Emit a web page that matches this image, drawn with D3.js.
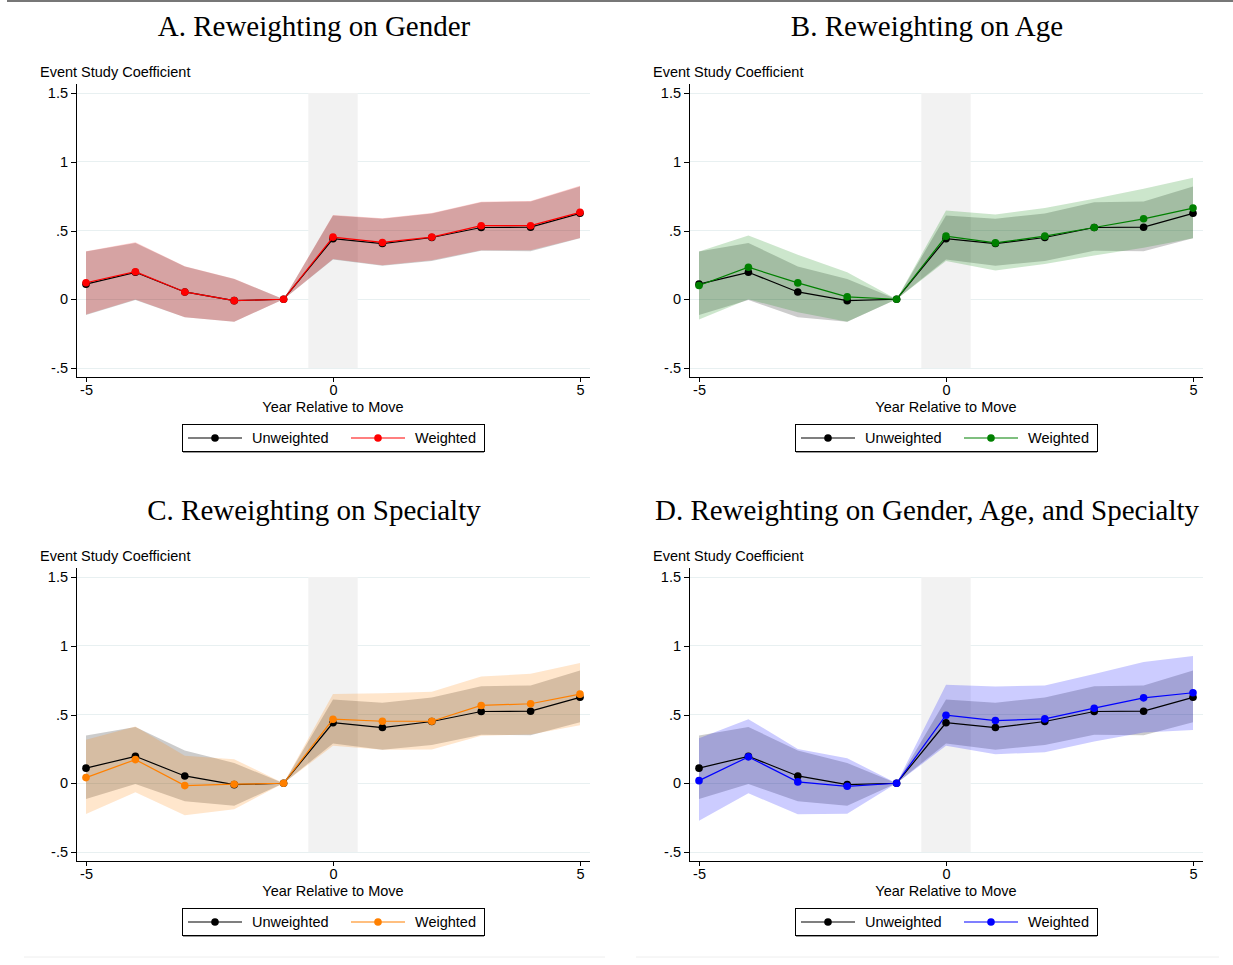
<!DOCTYPE html>
<html lang="en">
<head>
<meta charset="utf-8">
<script src="https://d3js.org/d3.v7.min.js"></script>
<style type="text/css">
body {
	margin: 0;
	background-color: #ffffff;
}
.axis text {
	font: 14.5px "Liberation Sans", Arial, sans-serif;
	fill: #000;
}
.axis line {
	stroke: #000;
	shape-rendering: crispEdges;
}
.title {
	font: 29px "Liberation Serif", "Times New Roman", serif;
}
.lab {
	font: 14.5px "Liberation Sans", Arial, sans-serif;
}
</style>
</head>
<body>
<script type="text/javascript">

// years relative to move
var years = [-5, -4, -3, -2, -1, 0, 1, 2, 3, 4, 5];

// unweighted estimates (same in every panel)
var unweighted   = [0.11, 0.196, 0.053, -0.01, 0, 0.44, 0.405, 0.449, 0.522, 0.524, 0.625];
var unweightedLo = [-0.114, -0.005, -0.131, -0.163, 0, 0.289, 0.243, 0.279, 0.352, 0.35, 0.444];
var unweightedHi = [0.347, 0.41, 0.238, 0.148, 0, 0.609, 0.585, 0.624, 0.706, 0.711, 0.82];

// A. gender
var genderW  = [0.12, 0.20, 0.053, -0.01, 0, 0.452, 0.413, 0.452, 0.535, 0.535, 0.632];
var genderLo = [-0.11, -0.002, -0.13, -0.163, 0, 0.293, 0.247, 0.284, 0.357, 0.357, 0.446];
var genderHi = [0.35, 0.415, 0.24, 0.15, 0, 0.612, 0.59, 0.628, 0.71, 0.715, 0.825];

// B. age
var ageW  = [0.10, 0.233, 0.119, 0.017, 0, 0.459, 0.41, 0.459, 0.522, 0.585, 0.663];
var ageLo = [-0.148, 0.0, -0.095, -0.163, 0, 0.279, 0.209, 0.257, 0.318, 0.375, 0.444];
var ageHi = [0.347, 0.464, 0.323, 0.197, 0, 0.646, 0.617, 0.663, 0.731, 0.803, 0.883];

// C. specialty
var specW  = [0.041, 0.172, -0.017, -0.007, 0, 0.466, 0.451, 0.451, 0.566, 0.578, 0.648];
var specLo = [-0.223, -0.066, -0.233, -0.189, 0, 0.272, 0.243, 0.245, 0.345, 0.355, 0.422];
var specHi = [0.316, 0.413, 0.20, 0.175, 0, 0.65, 0.655, 0.665, 0.777, 0.796, 0.874];

// D. gender, age and specialty
var allW  = [0.019, 0.192, 0.01, -0.022, 0, 0.495, 0.456, 0.468, 0.546, 0.621, 0.658];
var allLo = [-0.272, -0.073, -0.226, -0.221, 0, 0.272, 0.211, 0.226, 0.303, 0.369, 0.388];
var allHi = [0.328, 0.466, 0.25, 0.182, 0, 0.716, 0.704, 0.711, 0.794, 0.881, 0.925];

var titles = ["A. Reweighting on Gender", "B. Reweighting on Age",
              "C. Reweighting on Specialty", "D. Reweighting on Gender, Age, and Specialty"];
var colors = ["#ff0000", "#008000", "#ff8000", "#0000ff"];

var yTicks = [-0.5, 0, 0.5, 1, 1.5];
var yTickLabels = ["-.5", "0", ".5", "1", "1.5"];
var xTicks = [-5, 0, 5];
var xTickLabels = ["-5", "0", "5"];

var panels = [
	{title: titles[0], color: colors[0], w: genderW, lo: genderLo, hi: genderHi, ox: 0,   oy: 0},
	{title: titles[1], color: colors[1], w: ageW,    lo: ageLo,    hi: ageHi,    ox: 613, oy: 0},
	{title: titles[2], color: colors[2], w: specW,   lo: specLo,   hi: specHi,   ox: 0,   oy: 484},
	{title: titles[3], color: colors[3], w: allW,    lo: allLo,    hi: allHi,    ox: 613, oy: 484}
];

var width = 1233, height = 965;

var svg = d3.select("body")
	.append("svg")
	.attr("width", width)
	.attr("height", height);

// top rule
svg.append("rect")
	.attr("x", 7).attr("y", 0)
	.attr("width", width - 7).attr("height", 2)
	.style("fill", "#777");

panels.forEach(function(p) {
	var g = svg.append("g").attr("transform", "translate(" + p.ox + "," + p.oy + ")");

	var x = d3.scaleLinear().domain([-5, 5]).range([86, 580]);
	var y = d3.scaleLinear().domain([-0.5, 1.5]).range([368, 93]);

	// title
	g.append("text")
		.attr("class", "title")
		.attr("x", 314).attr("y", 36)
		.attr("text-anchor", "middle")
		.text(p.title);

	g.append("text")
		.attr("class", "lab")
		.attr("x", 40).attr("y", 77)
		.text("Event Study Coefficient");

	// gridlines
	g.selectAll(".grid")
		.data(yTicks)
		.enter()
		.append("line")
		.attr("x1", 76).attr("x2", 590)
		.attr("y1", function(d) { return y(d); })
		.attr("y2", function(d) { return y(d); })
		.style("stroke", "#e8f0f1")
		.style("stroke-width", 1)
		.style("shape-rendering", "crispEdges");

	// shaded window around the move
	g.append("rect")
		.attr("x", x(-0.5)).attr("y", y(1.5))
		.attr("width", x(0.5) - x(-0.5))
		.attr("height", y(-0.5) - y(1.5))
		.style("fill", "#f2f2f2");

	var area = d3.area()
		.x(function(d, i) { return x(years[i]); })
		.y0(function(d) { return y(d[0]); })
		.y1(function(d) { return y(d[1]); });

	var line = d3.line()
		.x(function(d, i) { return x(years[i]); })
		.y(function(d) { return y(d); });

	// confidence bands
	g.append("path")
		.attr("d", area(unweightedLo.map(function(v, i) { return [v, unweightedHi[i]]; })))
		.style("fill", "#000")
		.style("fill-opacity", 0.2);

	g.append("path")
		.attr("d", area(p.lo.map(function(v, i) { return [v, p.hi[i]]; })))
		.style("fill", p.color)
		.style("fill-opacity", 0.2);

	// unweighted line
	g.append("path")
		.attr("d", line(unweighted))
		.style("fill", "none")
		.style("stroke", "#000")
		.style("stroke-width", 1.2);

	g.selectAll(".dotU")
		.data(unweighted)
		.enter()
		.append("circle")
		.attr("cx", function(d, i) { return x(years[i]); })
		.attr("cy", function(d) { return y(d); })
		.attr("r", 3.8)
		.style("fill", "#000");

	// weighted line
	g.append("path")
		.attr("d", line(p.w))
		.style("fill", "none")
		.style("stroke", p.color)
		.style("stroke-width", 1.2);

	g.selectAll(".dotW")
		.data(p.w)
		.enter()
		.append("circle")
		.attr("cx", function(d, i) { return x(years[i]); })
		.attr("cy", function(d) { return y(d); })
		.attr("r", 3.8)
		.style("fill", p.color);

	// axes
	var yAxis = d3.axisLeft(y)
		.tickValues(yTicks)
		.tickFormat(function(d, i) { return yTickLabels[i]; })
		.tickSize(5)
		.tickSizeOuter(0)
		.tickPadding(3);

	var ya = g.append("g")
		.attr("class", "axis")
		.attr("transform", "translate(76,0)")
		.call(yAxis);
	ya.select(".domain").remove();

	var xAxis = d3.axisBottom(x)
		.tickValues(xTicks)
		.tickFormat(function(d, i) { return xTickLabels[i]; })
		.tickSize(5)
		.tickSizeOuter(0)
		.tickPadding(3);

	var xa = g.append("g")
		.attr("class", "axis")
		.attr("transform", "translate(0,377)")
		.call(xAxis);
	xa.select(".domain").remove();

	g.append("line")
		.attr("x1", 76.5).attr("x2", 76.5)
		.attr("y1", 84).attr("y2", 377)
		.style("stroke", "#000")
		.style("stroke-width", 1);

	g.append("line")
		.attr("x1", 76).attr("x2", 590)
		.attr("y1", 377.5).attr("y2", 377.5)
		.style("stroke", "#000")
		.style("stroke-width", 1);

	g.append("text")
		.attr("class", "lab")
		.attr("x", 333).attr("y", 412)
		.attr("text-anchor", "middle")
		.text("Year Relative to Move");

	// legend
	var lg = g.append("g").attr("transform", "translate(182,424)");
	lg.append("line")
		.attr("x1", 1).attr("x2", 302)
		.attr("y1", 28.5).attr("y2", 28.5)
		.style("stroke", "#999");
	lg.append("rect")
		.attr("x", 0.5).attr("y", 0.5)
		.attr("width", 302).attr("height", 27)
		.style("fill", "#fff")
		.style("stroke", "#000");

	var items = [{c: "#000", t: "Unweighted", x: 6}, {c: p.color, t: "Weighted", x: 169}];
	items.forEach(function(it) {
		lg.append("line")
			.attr("x1", it.x).attr("x2", it.x + 54)
			.attr("y1", 14).attr("y2", 14)
			.style("stroke", it.c)
			.style("stroke-width", 1.2);
		lg.append("circle")
			.attr("cx", it.x + 27).attr("cy", 14)
			.attr("r", 3.8)
			.style("fill", it.c);
		lg.append("text")
			.attr("class", "lab")
			.attr("x", it.x + 64).attr("y", 19)
			.text(it.t);
	});

	// faint bottom rule of each graph
	if (p.oy > 0) {
		g.append("line")
			.attr("x1", p.ox ? 23 : 24).attr("x2", p.ox ? 606 : 605)
			.attr("y1", 957 - p.oy).attr("y2", 957 - p.oy)
			.style("stroke", "#eeeeee");
	}
});

</script>
</body>
</html>
